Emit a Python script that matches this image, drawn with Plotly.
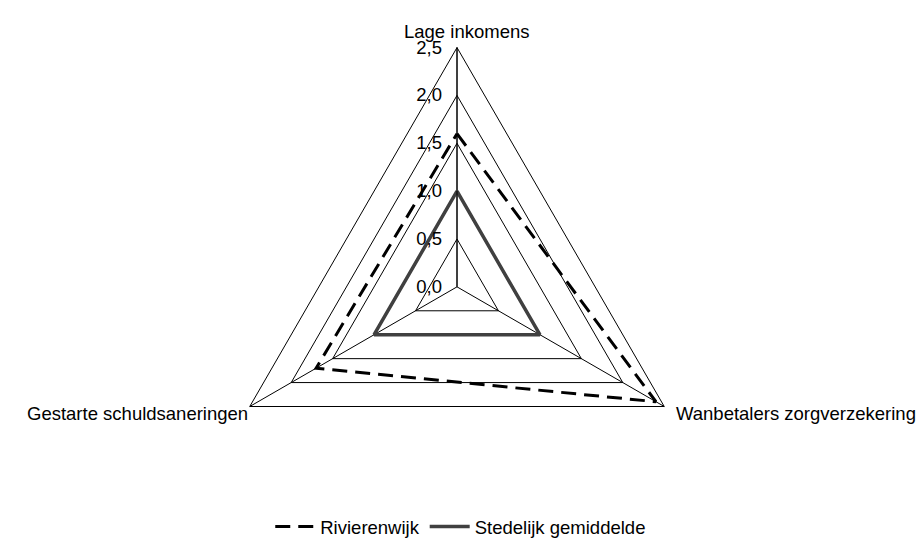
import plotly.graph_objects as go

# Data
categories = ["Lage inkomens", "Wanbetalers zorgverzekering", "Gestarte schuldsaneringen"]
rivierenwijk = [1.6, 2.4, 1.7]
stedelijk = [1.0, 1.0, 1.0]

W, H = 924, 538
FONT = "Liberation Sans, Arial, sans-serif"
FS = 18.5

# close the polygons
cats_closed = categories + categories[:1]

fig = go.Figure()

fig.add_trace(go.Scatterpolar(
    r=rivierenwijk + rivierenwijk[:1],
    theta=cats_closed,
    mode="lines",
    name="Rivierenwijk",
    line=dict(color="black", width=3, dash="15px,8px"),
))

fig.add_trace(go.Scatterpolar(
    r=stedelijk + stedelijk[:1],
    theta=cats_closed,
    mode="lines",
    name="Stedelijk gemiddelde",
    line=dict(color="#404040", width=3.5),
))

# category labels placed outside the triangle vertices
label_pos = [
    (458, 24, "center"),
    (666, 410, "left"),
    (242, 410, "right"),
]
for cat, (px, py, anchor) in zip(categories, label_pos):
    fig.add_annotation(
        x=px / W, y=1 - py / H, xref="paper", yref="paper",
        text=cat, showarrow=False, xanchor=anchor, yanchor="middle",
        font=dict(family=FONT, size=FS, color="black"),
    )

fig.update_layout(
    width=W,
    height=H,
    margin=dict(l=0, r=0, t=0, b=0),
    paper_bgcolor="white",
    plot_bgcolor="white",
    separators=",.",
    font=dict(family=FONT, size=FS, color="black"),
    polar=dict(
        domain=dict(x=[207 / W, 691 / W], y=[1 - 524 / H, 1 - 40 / H]),
        bgcolor="white",
        gridshape="linear",
        radialaxis=dict(
            range=[0, 2.5],
            dtick=0.5,
            tickformat=".1f",
            angle=90,
            tickangle=90,
            side="counterclockwise",
            showline=True,
            linecolor="black",
            linewidth=1,
            gridcolor="black",
            gridwidth=1,
            ticks="outside",
            ticklen=8,
            tickcolor="rgba(0,0,0,0)",
            tickfont=dict(size=FS, color="black"),
        ),
        angularaxis=dict(
            direction="clockwise",
            rotation=90,
            showline=True,
            linecolor="black",
            linewidth=1,
            gridcolor="black",
            gridwidth=1,
            ticks="",
            showticklabels=False,
        ),
    ),
    legend=dict(
        orientation="h",
        x=0.49,
        xanchor="center",
        y=1 - 525 / H,
        yanchor="middle",
        font=dict(size=FS),
        itemwidth=40,
    ),
)

fig.write_html("out.html")
